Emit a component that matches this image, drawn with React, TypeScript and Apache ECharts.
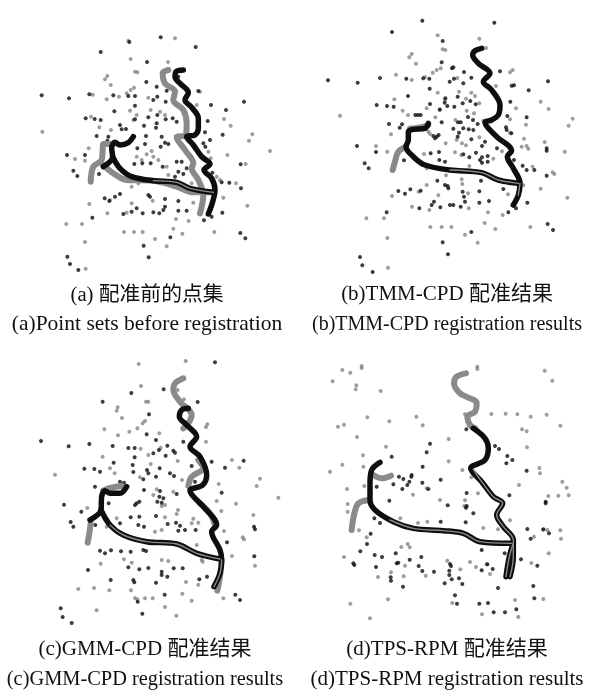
import React, { useEffect, useRef } from "react";
import * as echarts from "echarts";

type P = number[][];

const aGrayPts: P = [[465,55],[325,62],[332,117],[444,126],[345,155],[352,157],[262,168],[255,178],[272,195],[342,203],[332,210],[320,220],[218,224],[297,230],[260,238],[385,233],[463,225],[540,215],[530,255],[330,272],[392,270],[420,275],[435,285],[213,290],[350,285],[340,300],[612,297],[632,317],[238,322],[273,330],[67,335],[697,343],[687,362],[750,393],[206,385],[165,417],[195,422],[622,405],[677,432],[565,395],[572,415],[350,410],[380,403],[395,393],[400,410],[415,420],[365,420],[440,440],[520,432],[445,465],[590,470],[648,490],[600,480],[335,500],[355,490],[420,490],[515,490],[610,533],[682,557],[208,552],[270,540],[335,550],[398,542],[520,548],[262,580],[320,578],[468,597],[506,603],[139,612],[186,612],[312,636],[342,636],[368,636],[460,626],[487,641],[583,636],[405,657],[195,666],[440,679],[197,746]];
const aBlackPts: P = [[422,52],[328,66],[527,81],[242,96],[381,126],[379,186],[410,200],[475,170],[440,212],[535,213],[65,226],[147,235],[208,223],[280,226],[325,228],[345,228],[412,230],[400,240],[437,245],[672,245],[345,257],[573,255],[618,270],[283,274],[197,295],[224,297],[242,300],[385,292],[412,285],[437,298],[458,295],[470,305],[345,298],[372,317],[410,310],[563,303],[408,323],[300,315],[318,327],[305,328],[230,348],[265,350],[555,337],[608,344],[378,348],[425,350],[468,350],[570,360],[262,362],[352,385],[375,372],[435,368],[445,372],[550,370],[556,380],[422,380],[141,405],[195,405],[662,433],[343,432],[367,430],[392,430],[428,440],[470,425],[485,425],[500,445],[475,455],[490,462],[160,452],[172,468],[237,462],[577,458],[605,487],[628,488],[663,505],[465,470],[385,525],[390,530],[254,535],[268,543],[285,530],[300,522],[435,537],[475,543],[435,560],[430,570],[350,565],[335,575],[310,582],[368,580],[400,577],[418,580],[475,572],[500,572],[607,578],[217,593],[552,601],[575,590],[661,639],[676,655],[451,652],[371,677],[142,710],[386,712],[150,732],[175,750]];
const aGrayLines: P[] = [
  [[445,150],[428,160],[435,190],[465,215],[460,240],[490,270],[500,310],[498,345],[470,352],[495,390],[520,430],[515,445],[535,480],[550,525],[540,580]],
  [[270,372],[250,372],[248,390],[245,420],[220,440],[212,485]],
  [[250,435],[280,460],[320,480],[400,482],[470,500],[520,517],[575,517]],
];
const aBlackLines: P[] = [
  [[490,150],[468,155],[465,170],[480,190],[505,218],[495,240],[515,262],[535,295],[535,325],[525,345],[500,350],[520,375],[545,410],[570,432],[552,450],[575,475],[585,510],[578,545],[565,582]],
  [[340,350],[325,368],[300,375],[285,367],[275,385],[278,410],[250,440]],
  [[278,410],[300,445],[335,470],[400,482],[470,487],[510,505],[580,517]],
];
const aInnerLines: P[] = [[[400,482],[470,487],[510,505],[580,517]]];

const bGrayPts: P = [[383,46],[508,56],[528,84],[398,88],[406,90],[305,102],[298,112],[318,131],[392,145],[380,150],[368,158],[258,164],[345,171],[305,180],[442,174],[608,150],[600,157],[558,198],[383,218],[447,215],[484,218],[495,228],[253,238],[405,240],[468,236],[692,245],[508,250],[350,265],[278,272],[294,285],[618,265],[716,267],[390,268],[470,272],[492,280],[90,287],[376,292],[788,296],[600,298],[436,300],[776,317],[648,314],[243,343],[355,335],[360,342],[600,338],[520,302],[642,356],[704,366],[508,352],[198,378],[407,370],[440,360],[456,370],[468,376],[635,380],[650,378],[655,386],[232,395],[435,397],[454,405],[764,395],[576,394],[550,416],[478,438],[668,440],[342,402],[350,445],[733,462],[728,457],[408,466],[455,478],[457,492],[640,496],[692,506],[350,495],[246,528],[772,533],[326,515],[385,526],[474,520],[594,523],[306,560],[358,570],[476,565],[534,577],[578,585],[169,595],[222,595],[361,621],[395,621],[424,621],[524,609],[556,627],[661,621],[465,644],[503,668],[232,654],[234,743]];
const bBlackPts: P = [[337,2],[553,8],[246,36],[398,63],[395,127],[430,142],[426,145],[462,156],[570,154],[54,181],[143,188],[210,174],[289,176],[340,175],[358,176],[432,176],[419,185],[484,173],[460,190],[714,184],[605,197],[612,196],[656,211],[359,206],[294,228],[443,230],[406,235],[404,248],[481,243],[497,253],[601,245],[200,255],[231,258],[251,260],[360,252],[412,258],[433,260],[458,250],[389,269],[474,291],[316,285],[324,285],[332,285],[489,300],[503,312],[592,288],[650,292],[395,307],[444,307],[452,307],[237,312],[276,313],[269,323],[430,326],[460,325],[476,328],[490,330],[588,322],[604,340],[590,330],[380,350],[370,348],[375,355],[386,345],[447,338],[443,350],[484,358],[525,365],[141,378],[516,378],[561,385],[710,385],[710,392],[198,396],[387,396],[362,400],[460,403],[498,398],[478,412],[510,420],[516,412],[533,408],[533,425],[516,428],[164,430],[176,445],[282,421],[388,420],[405,425],[612,420],[638,437],[650,450],[673,450],[710,467],[382,482],[405,495],[413,498],[415,505],[513,482],[580,507],[265,513],[285,521],[301,508],[332,512],[458,515],[508,514],[462,530],[465,545],[537,543],[508,548],[652,548],[372,545],[365,555],[328,565],[391,562],[420,555],[430,555],[452,560],[618,565],[595,577],[230,577],[713,612],[729,630],[484,636],[398,667],[414,703],[150,711],[157,736],[188,756]];
const bGrayLines: P[] = [
  [[288,380],[265,395],[255,425],[248,450]],
  [[355,315],[330,322],[300,326]],
];
const bBlackLines: P[] = [
  [[515,85],[495,92],[488,105],[505,130],[540,160],[520,185],[545,210],[570,255],[565,285],[545,300],[525,307],[560,350],[605,392],[592,410],[610,445],[630,490],[625,525],[610,555]],
  [[355,310],[345,325],[310,328],[295,335],[295,360],[288,380],[310,410],[345,435],[420,450],[515,458],[565,480],[625,490]],
];
const bInnerLines: P[] = [[[420,450],[515,458],[565,480],[625,490]],[[630,490],[625,525]]];

const cGrayPts: P = [[356,12],[497,3],[363,78],[473,90],[378,125],[385,125],[492,118],[293,142],[290,152],[306,174],[375,183],[368,190],[352,205],[562,193],[558,201],[253,208],[328,215],[294,226],[418,220],[558,245],[422,263],[248,290],[362,266],[385,285],[473,303],[636,300],[658,323],[270,325],[284,340],[105,344],[392,312],[720,356],[710,378],[360,352],[486,360],[596,372],[590,423],[604,453],[648,431],[775,413],[410,388],[400,405],[425,438],[435,435],[460,395],[202,444],[474,450],[470,462],[700,465],[290,475],[520,476],[515,490],[535,488],[260,500],[435,472],[405,515],[425,510],[612,513],[668,532],[672,538],[530,555],[636,588],[705,617],[242,611],[312,598],[335,608],[425,600],[445,603],[175,687],[222,684],[268,691],[333,691],[498,666],[535,674],[345,714],[352,718],[375,715],[398,715],[487,701],[515,722],[610,715],[230,751],[435,741],[469,767],[545,600],[548,605]];
const cBlackPts: P = [[585,7],[431,88],[334,99],[533,126],[248,125],[387,163],[380,223],[408,240],[490,245],[63,243],[146,259],[208,252],[278,258],[325,264],[344,264],[417,270],[400,280],[442,257],[460,272],[465,278],[437,287],[344,292],[281,308],[575,305],[671,302],[193,326],[223,327],[240,335],[338,315],[340,336],[381,330],[385,340],[419,325],[450,340],[462,348],[615,323],[515,318],[370,358],[408,350],[300,365],[312,368],[225,380],[525,365],[372,390],[420,393],[470,402],[605,398],[350,430],[358,425],[345,435],[418,410],[430,415],[412,425],[425,428],[132,434],[184,455],[266,430],[702,500],[705,508],[332,472],[358,470],[408,468],[152,486],[160,500],[226,495],[300,490],[355,495],[372,500],[443,492],[468,488],[480,497],[495,510],[475,512],[527,510],[621,547],[240,572],[255,580],[273,571],[303,574],[332,575],[370,570],[378,573],[703,589],[204,630],[325,622],[358,628],[385,624],[425,635],[425,645],[461,625],[488,625],[272,660],[340,660],[343,667],[408,668],[442,650],[538,658],[561,650],[434,704],[646,704],[660,720],[353,725],[122,745],[128,771],[155,789],[367,761]];
const cGrayLines: P[] = [
  [[490,55],[465,70],[460,90],[480,125],[515,165],[505,190],[490,205]],
  [[535,300],[550,325],[515,350],[505,378]],
  [[540,430],[570,460],[585,495]],
  [[305,378],[265,385],[250,392]],
  [[212,490],[208,520],[203,548]],
  [[605,600],[600,650],[592,692]],
];
const cBlackLines: P[] = [
  [[505,145],[485,150],[478,170],[500,195],[530,230],[510,260],[540,290],[560,345],[548,375],[510,392],[550,440],[590,495],[575,515],[600,570],[605,600],[600,640],[582,680]],
  [[320,380],[300,400],[270,400],[255,392],[245,410],[243,450],[210,480]],
  [[243,450],[270,495],[310,525],[380,545],[470,552],[530,580],[600,597]],
];
const cInnerLines: P[] = [
  [[270,495],[310,525],[380,545],[470,552],[530,580],[600,597]],
  [[605,600],[600,640],[582,680]],
];

const dGrayPts: P = [[97,30],[155,18],[155,24],[121,38],[502,20],[502,27],[704,32],[727,62],[68,64],[139,76],[137,88],[212,93],[172,172],[238,184],[319,170],[465,163],[544,162],[587,161],[622,163],[662,170],[710,164],[751,197],[84,200],[102,194],[338,196],[636,208],[650,214],[141,231],[416,237],[228,260],[651,262],[159,286],[416,304],[97,314],[160,320],[60,335],[457,330],[688,324],[690,340],[484,352],[757,365],[770,383],[627,375],[111,387],[163,378],[350,385],[309,404],[504,400],[715,408],[745,407],[776,406],[465,421],[390,420],[463,438],[113,432],[113,455],[271,475],[600,481],[147,511],[324,489],[352,485],[520,504],[751,511],[700,509],[712,510],[564,508],[170,532],[672,530],[753,536],[274,561],[293,552],[299,562],[102,591],[716,580],[412,602],[480,606],[498,621],[530,613],[664,609],[285,617],[451,628],[243,637],[540,642],[204,651],[281,649],[347,647],[121,731],[234,718],[427,729],[615,720],[700,717],[516,763],[625,771],[180,775]];
const dBlackPts: P = [[469,208],[360,251],[555,258],[567,267],[350,277],[245,290],[592,288],[607,300],[589,310],[338,320],[650,332],[305,345],[304,350],[267,350],[280,357],[392,359],[298,365],[292,375],[250,373],[337,368],[277,387],[200,380],[355,387],[470,399],[598,406],[238,422],[707,425],[707,430],[413,436],[470,438],[468,443],[490,460],[193,475],[210,489],[392,485],[467,487],[182,521],[652,507],[700,508],[717,520],[662,536],[171,552],[515,570],[151,574],[584,580],[194,585],[216,591],[257,580],[633,598],[334,591],[299,599],[130,610],[133,615],[260,610],[265,608],[420,612],[423,618],[532,613],[682,617],[198,621],[326,618],[337,633],[372,635],[515,631],[548,627],[418,632],[418,645],[242,652],[243,662],[425,658],[404,670],[447,655],[457,672],[279,680],[670,678],[564,684],[435,706],[673,715],[441,731],[508,731],[534,729],[551,757],[585,757],[619,748]];
const dGrayLines: P[] = [
  [[468,40],[440,50],[432,70],[450,100],[500,130],[495,155],[472,170],[480,195],[495,205]],
  [[243,347],[215,355],[190,345]],
  [[178,420],[145,430],[132,465],[125,510]],
];
const dBlackLines: P[] = [
  [[490,205],[525,235],[535,265],[525,300],[482,325],[515,365],[550,410],[578,430],[560,465],[580,500],[610,540],[610,590],[600,650]],
  [[610,550],[598,590],[588,650]],
  [[210,307],[185,330],[180,370],[180,420],[195,450],[250,485],[310,505],[400,512],[460,520],[510,545],[605,550]],
];
const dInnerLines: P[] = [
  [[490,328],[515,365],[550,410],[578,430],[560,465],[580,500],[610,540],[610,590],[600,650]],
  [[610,550],[598,590],[588,650]],
  [[240,480],[310,505],[400,512],[460,520],[510,545],[605,550]],
];

const captionTop = ["(a) 配准前的点集", "(b)TMM-CPD 配准结果", "(c)GMM-CPD 配准结果", "(d)TPS-RPM 配准结果"];
const captionBottom = ["(a)Point sets before registration", "(b)TMM-CPD registration results", "(c)GMM-CPD registration results", "(d)TPS-RPM registration results"];

const panels = [
  { gray: aGrayPts, black: aBlackPts, gl: aGrayLines, bl: aBlackLines, il: aInnerLines, left: 20, top: 20, h: 260, cx: 147, y1: 293, y2: 323, size: 21.5, topSize: 20.8 },
  { gray: bGrayPts, black: bBlackPts, gl: bGrayLines, bl: bBlackLines, il: bInnerLines, left: 310, top: 20, h: 260, cx: 447, y1: 293, y2: 323, size: 20, topSize: 21 },
  { gray: cGrayPts, black: cBlackPts, gl: cGrayLines, bl: cBlackLines, il: cInnerLines, left: 20, top: 360, h: 270, cx: 145, y1: 648, y2: 678, size: 20.4, topSize: 21 },
  { gray: dGrayPts, black: dBlackPts, gl: dGrayLines, bl: dBlackLines, il: dInnerLines, left: 310, top: 360, h: 270, cx: 447, y1: 648, y2: 678, size: 21, topSize: 21 },
];

const lineSeries = (idx: number, data: P, color: string, width: number) => ({
  type: "line", xAxisIndex: idx, yAxisIndex: idx, data, smooth: 0.35, showSymbol: false, silent: true,
  lineStyle: { color, width, cap: "round", join: "round" },
});
const pointSeries = (idx: number, data: P, color: string) => ({
  type: "scatter", xAxisIndex: idx, yAxisIndex: idx, data, symbol: "circle", symbolSize: 4, silent: true,
  itemStyle: { color },
});

export default function App() {
  const ref = useRef<HTMLDivElement>(null);
  useEffect(() => {
    const chart = echarts.init(ref.current!, undefined, { renderer: "svg" });
    const font = '"Liberation Serif", "Noto Sans CJK SC", serif';
    chart.setOption({
      animation: false,
      backgroundColor: "#ffffff",
      grid: panels.map((p) => ({ left: p.left, top: p.top, width: 270, height: p.h })),
      xAxis: panels.map((_, i) => ({ type: "value", gridIndex: i, min: 0, max: 810, show: false })),
      yAxis: panels.map((p, i) => ({ type: "value", gridIndex: i, min: 0, max: p.h * 3, inverse: true, show: false })),
      series: panels.flatMap((p, i) => [
        pointSeries(i, p.gray, "#868686"),
        pointSeries(i, p.black, "#0c0c0c"),
        ...p.gl.map((l) => lineSeries(i, l, "#8a8a8a", 6)),
        ...p.bl.map((l) => lineSeries(i, l, "#0e0e0e", 5.5)),
        ...p.il.map((l) => lineSeries(i, l, "#8a8a8a", 1.4)),
      ]),
      graphic: panels.flatMap((p, i) => [
        { type: "text", x: p.cx, y: p.y1, style: { text: captionTop[i], font: `${p.topSize}px ${font}`, fill: "#111", align: "center", verticalAlign: "middle" } },
        { type: "text", x: p.cx, y: p.y2, style: { text: captionBottom[i], font: `${p.size}px ${font}`, fill: "#111", align: "center", verticalAlign: "middle" } },
      ]),
    });
    return () => chart.dispose();
  }, []);
  return <div ref={ref} style={{ position: "fixed", left: 0, top: 0, width: 595, height: 690, filter: "blur(0.35px)" }} />;
}
